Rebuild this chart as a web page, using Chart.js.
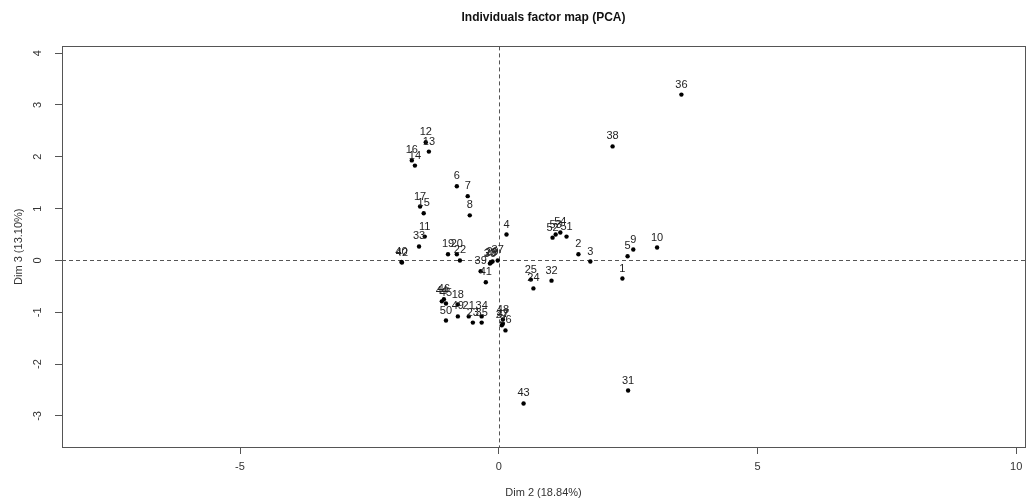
<!DOCTYPE html>
<html>
<head>
<meta charset="utf-8">
<script src="https://cdn.jsdelivr.net/npm/chart.js@4.4.1/dist/chart.umd.min.js"></script>
<style>
  html, body { margin: 0; padding: 0; background: #fff; }
  #wrap { width: 1029px; height: 503px; }
</style>
</head>
<body>
<div id="wrap"><canvas id="pca" width="1029" height="503"></canvas></div>
<script>
// individuals and their coordinates on Dim 2 / Dim 3
const individuals = ['1','2','3','4','5','6','7','8','9','10','11','12','13','14','15','16','17','18',
    '19','20','21','22','23','24','25','26','27','28','29','30','31','32','33','34','35','36',
    '37','38','39','40','41','42','43','44','45','46','47','48','49','50','51','52','53','54'];
const dim2 = [2.39, 1.54, 1.77, 0.15, 2.49, -0.81, -0.60, -0.56, 2.60, 3.06, -1.43, -1.41, -1.35, -1.62,
    -1.45, -1.68, -1.52, -0.79, -0.98, -0.81, -0.58, -0.75, -0.50, 0.67, 0.62, 0.13, 0.06, -0.15,
    -0.12, -0.17, 2.50, 1.02, -1.54, -0.33, -0.33, 3.53, -0.02, 2.20, -0.35, -1.88, -0.25, -1.87,
    0.48, -1.10, -1.02, -1.06, 0.08, 0.08, -0.79, -1.02, 1.31, 1.04, 1.10, 1.19];
const dim3 = [-0.35, 0.12, -0.02, 0.50, 0.08, 1.43, 1.24, 0.87, 0.21, 0.25, 0.46, 2.28, 2.10, 1.83,
    0.91, 1.93, 1.04, -0.85, 0.12, 0.12, -1.08, 0.00, -1.20, -0.54, -0.37, -1.35, -1.25, -0.04,
    -0.02, -0.06, -2.51, -0.39, 0.27, -1.08, -1.20, 3.20, 0.00, 2.20, -0.21, -0.03, -0.42, -0.04,
    -2.76, -0.79, -0.83, -0.75, -1.22, -1.14, -1.08, -1.16, 0.46, 0.44, 0.50, 0.54];

const xTicks = [-5, 0, 5, 10];
const yTicks = [-3, -2, -1, 0, 1, 2, 3, 4];
const xRange = [-8.44, 10.17];
const yRange = [-3.60, 4.13];

const FONT = "'Liberation Sans', Arial, sans-serif";
const AXIS_COLOR = '#555';

let points = [];
for (let i = 0; i < individuals.length; i++) {
    points.push({x: dim2[i], y: dim3[i], label: individuals[i]});
}

// box, dashed zero lines, rotated y tick labels, point labels
const pcaDecor = {
    id: 'pcaDecor',
    beforeDatasetsDraw(chart) {
        const {ctx, chartArea: a, scales: {x, y}} = chart;
        ctx.save();
        ctx.strokeStyle = AXIS_COLOR;
        ctx.lineWidth = 1;
        ctx.setLineDash([4, 3]);
        let x0 = Math.round(x.getPixelForValue(0)) + 0.5;
        let y0 = Math.round(y.getPixelForValue(0)) + 0.5;
        ctx.beginPath();
        ctx.moveTo(x0, a.top);
        ctx.lineTo(x0, a.bottom);
        ctx.moveTo(a.left, y0);
        ctx.lineTo(a.right, y0);
        ctx.stroke();
        ctx.restore();
    },
    afterDraw(chart) {
        const {ctx, chartArea: a, scales: {x, y}} = chart;
        ctx.save();
        ctx.strokeStyle = AXIS_COLOR;
        ctx.lineWidth = 1;
        ctx.strokeRect(Math.round(a.left) + 0.5, Math.round(a.top) + 0.5,
            Math.round(a.right - a.left), Math.round(a.bottom - a.top));

        // y tick labels, parallel to the axis
        ctx.fillStyle = '#333';
        ctx.font = '11px ' + FONT;
        ctx.textAlign = 'center';
        ctx.textBaseline = 'middle';
        y.ticks.forEach(function (t) {
            let py = y.getPixelForValue(t.value);
            ctx.save();
            ctx.translate(38, py);
            ctx.rotate(-Math.PI / 2);
            ctx.fillText(String(t.value), 0, 0);
            ctx.restore();
        });

        // individual labels above each point
        let meta = chart.getDatasetMeta(0);
        ctx.fillStyle = '#222';
        ctx.font = '11px ' + FONT;
        meta.data.forEach(function (el, i) {
            ctx.fillText(points[i].label, el.x, el.y - 10);
        });
        ctx.restore();
    }
};

const config = {
    type: 'scatter',
    data: {
        datasets: [{
            label: 'individuals',
            data: points,
            pointRadius: 2.2,
            pointBackgroundColor: '#000',
            pointBorderWidth: 0,
        }]
    },
    options: {
        responsive: false,
        animation: false,
        devicePixelRatio: 1,
        layout: {padding: {right: 1}},
        plugins: {
            legend: {display: false},
            tooltip: {enabled: false},
            title: {
                display: true,
                fullSize: false,
                text: 'Individuals factor map (PCA)',
                color: '#111',
                font: {family: FONT, size: 12, weight: 'bold'},
                padding: {top: 10, bottom: 22},
            },
        },
        scales: {
            x: {
                type: 'linear',
                min: xRange[0],
                max: xRange[1],
                afterBuildTicks: function (scale) {
                    scale.ticks = xTicks.map(v => ({value: v}));
                },
                afterFit: function (scale) {
                    scale.height = 56;
                },
                grid: {display: true, drawOnChartArea: false, drawTicks: true, tickLength: 7, color: AXIS_COLOR},
                border: {display: true, color: AXIS_COLOR},
                ticks: {color: '#333', font: {family: FONT, size: 11}, padding: 6, maxRotation: 0},
                title: {
                    display: true,
                    text: 'Dim 2 (18.84%)',
                    color: '#333',
                    font: {family: FONT, size: 11},
                    padding: {top: 0, bottom: 3},
                },
            },
            y: {
                type: 'linear',
                min: yRange[0],
                max: yRange[1],
                afterBuildTicks: function (scale) {
                    scale.ticks = yTicks.map(v => ({value: v}));
                },
                afterFit: function (scale) {
                    scale.width = 62;
                },
                grid: {display: true, drawOnChartArea: false, drawTicks: true, tickLength: 7, color: AXIS_COLOR},
                border: {display: true, color: AXIS_COLOR},
                ticks: {display: false},
                title: {
                    display: true,
                    text: 'Dim 3 (13.10%)',
                    color: '#333',
                    font: {family: FONT, size: 11},
                    padding: {top: 12, bottom: 0},
                },
            },
        },
    },
    plugins: [pcaDecor],
};

const pcaChart = new Chart(document.getElementById('pca').getContext('2d'), config);
</script>
</body>
</html>
